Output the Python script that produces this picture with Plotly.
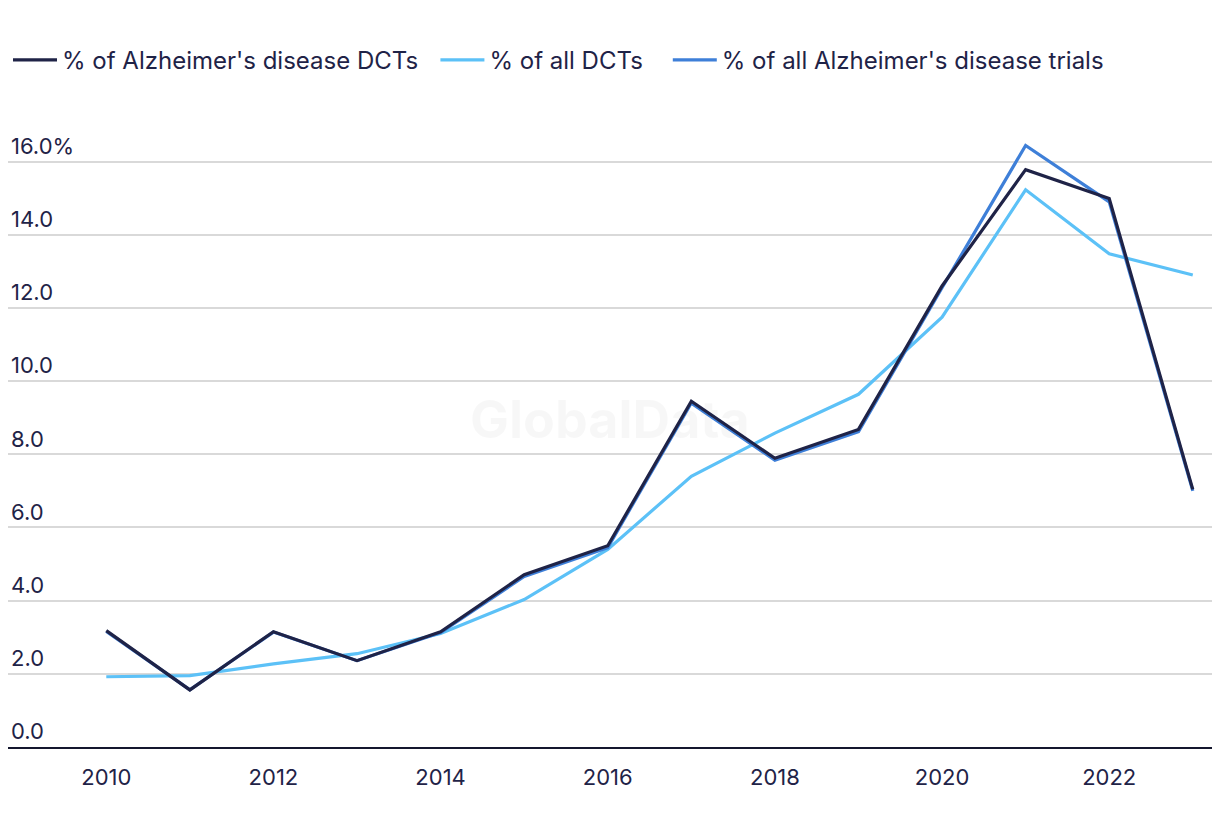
import plotly.graph_objects as go

years = list(range(2010, 2024))
ad_dcts = [3.18, 1.56, 3.15, 2.36, 3.15, 4.71, 5.50, 9.45, 7.89, 8.68, 12.60, 15.78, 14.99, 7.04]
all_dcts = [1.92, 1.95, 2.27, 2.55, 3.10, 4.03, 5.40, 7.40, 8.58, 9.64, 11.75, 15.23, 13.48, 12.90]
ad_trials = [3.16, 1.56, 3.14, 2.36, 3.13, 4.66, 5.45, 9.40, 7.84, 8.62, 12.55, 16.44, 14.90, 7.00]

series_names = ["% of Alzheimer's disease DCTs", "% of all DCTs", "% of all Alzheimer's disease trials"]
y_ticks = [0, 2, 4, 6, 8, 10, 12, 14, 16]
y_tick_labels = ["0.0", "2.0", "4.0", "6.0", "8.0", "10.0", "12.0", "14.0", "16.0%"]
x_ticks = [2010, 2012, 2014, 2016, 2018, 2020, 2022]

dark = "#1f2347"
light = "#5cc1f7"
mid = "#3e7fd8"

fig = go.Figure()
fig.add_trace(go.Scatter(x=years, y=all_dcts, mode="lines", name=series_names[1],
                         line=dict(color=light, width=3.2), legend="legend2"))
fig.add_trace(go.Scatter(x=years, y=ad_trials, mode="lines", name=series_names[2],
                         line=dict(color=mid, width=3.2), legend="legend3"))
fig.add_trace(go.Scatter(x=years, y=ad_dcts, mode="lines", name=series_names[0],
                         line=dict(color=dark, width=3.2), legend="legend"))

fig.add_annotation(text="<b>GlobalData</b>", x=0.5, y=0.527, xref="paper", yref="paper",
                   showarrow=False, font=dict(size=52, color="rgba(0,0,0,0.03)", family="Inter"))

legend_common = dict(orientation="h", xanchor="left", y=1.104, yanchor="middle",
                     font=dict(size=24, color=dark), itemwidth=44,
                     bgcolor="rgba(0,0,0,0)")

fig.update_layout(
    width=1220, height=840,
    margin=dict(l=0, r=16, t=117, b=101),
    paper_bgcolor="white", plot_bgcolor="white",
    font=dict(family="Inter, Roboto, sans-serif", color=dark, size=22),
    showlegend=True,
    legend=dict(x=0.0, **legend_common),
    legend2=dict(x=0.355, **legend_common),
    legend3=dict(x=0.548, **legend_common),
    xaxis=dict(range=[2008.824, 2023.23], tickvals=x_ticks, showgrid=False,
               showline=True, linecolor="#14172e", linewidth=2, ticks="",
               ticklabelstandoff=10,
               tickfont=dict(size=22, color=dark), zeroline=False),
    yaxis=dict(range=[0, 17], tickvals=y_ticks, ticktext=y_tick_labels,
               showgrid=True, gridcolor="#d9d9d9", gridwidth=1.5,
               ticklabelposition="inside top", zeroline=False, showline=False,
               tickfont=dict(size=22, color=dark)),
)

fig.write_html("out.html")
